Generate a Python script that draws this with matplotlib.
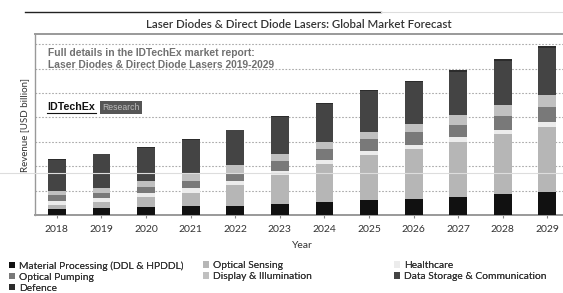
import matplotlib
matplotlib.use('Agg')
import matplotlib.pyplot as plt
from matplotlib.lines import Line2D
from matplotlib.patches import Patch
import numpy as np

plt.rcParams['font.family'] = ['Lato', 'DejaVu Sans']

years = ['2018', '2019', '2020', '2021', '2022', '2023',
         '2024', '2025', '2026', '2027', '2028', '2029']

# revenue per segment (one gridline = 1 unit)
material = [0.23, 0.27, 0.33, 0.36, 0.38, 0.44, 0.52, 0.60, 0.67, 0.75, 0.85, 0.96]
sensing = [0.20, 0.26, 0.41, 0.56, 0.87, 1.20, 1.56, 1.86, 2.02, 2.25, 2.46, 2.66]
healthcare = [0.15, 0.16, 0.15, 0.18, 0.14, 0.16, 0.18, 0.16, 0.18, 0.18, 0.18, 0.20]
pumping = [0.22, 0.23, 0.25, 0.31, 0.31, 0.41, 0.44, 0.48, 0.53, 0.49, 0.56, 0.60]
display = [0.18, 0.20, 0.26, 0.26, 0.34, 0.31, 0.31, 0.31, 0.34, 0.41, 0.45, 0.50]
datacom = [1.29, 1.38, 1.36, 1.42, 1.43, 1.50, 1.55, 1.66, 1.72, 1.77, 1.82, 1.92]
defence = [0.02, 0.02, 0.02, 0.03, 0.03, 0.03, 0.04, 0.04, 0.05, 0.08, 0.08, 0.08]

segments = [
    ('Material Processing (DDL & HPDDL)', material, '#111111'),
    ('Optical Sensing', sensing, '#b6b6b6'),
    ('Healthcare', healthcare, '#ececec'),
    ('Optical Pumping', pumping, '#797979'),
    ('Display & Illumination', display, '#c0c0c0'),
    ('Data Storage & Communication', datacom, '#444444'),
    ('Defence', defence, '#2c2c2c'),
]

fig = plt.figure(figsize=(5.63, 2.93), dpi=100)
ax = fig.add_axes([35 / 563, 78 / 293, 1 - 35 / 563, 181 / 293])

x = np.arange(len(years))
bottom = np.zeros(len(years))
for name, vals, col in segments:
    ax.bar(x, vals, 0.40, bottom=bottom, color=col, label=name, zorder=3)
    bottom = bottom + np.array(vals)

ax.set_xlim(-0.49, 11.35)
ax.set_ylim(0, 7.42)
ax.set_yticks(np.arange(1, 8))
ax.yaxis.grid(True, linestyle=(0, (1.5, 1.5)), color='#aaaaaa', linewidth=0.8, zorder=0)
ax.tick_params(axis='y', left=False, labelleft=False)
ax.set_xticks(x)
ax.set_xticklabels(years, fontsize=7.5, color='#333333')
ax.tick_params(axis='x', length=2, color='#888888', pad=5)

for side in ['left', 'bottom', 'top']:
    ax.spines[side].set_color('#999999')
ax.spines['bottom'].set_linewidth(1.4)
ax.spines['top'].set_linewidth(1.4)
ax.spines['left'].set_linewidth(1.0)
ax.spines['right'].set_visible(False)

ax.set_ylabel('Revenue [USD billion]', fontsize=7, color='#333333', labelpad=4)
fig.text(302 / 563, 1 - 245 / 293, 'Year', fontsize=7.5, color='#333333',
         ha='center', va='center')

fig.text(299 / 563, 1 - 24 / 293,
         'Laser Diodes & Direct Diode Lasers: Global Market Forecast',
         fontsize=8.3, color='#333333', ha='center', va='center', fontweight='semibold')

# rules at the very top
fig.add_artist(Line2D([25 / 563, 381 / 563], [1 - 11.5 / 293] * 2, color='#222222', lw=1.0))
fig.add_artist(Line2D([381 / 563, 1.0], [1 - 11.5 / 293] * 2, color='#dddddd', lw=0.8))
# faint scan line across the picture
fig.add_artist(Line2D([0, 1], [1 - 173 / 293] * 2, color='#dddddd', lw=0.8, zorder=10))

# report note inside the plot
fig.text(48 / 563, 1 - 53 / 293, 'Full details in the IDTechEx market report:',
         fontsize=7.4, color='#707070', fontweight='bold', family='Liberation Sans',
         va='center')
fig.text(48 / 563, 1 - 65 / 293, 'Laser Diodes & Direct Diode Lasers 2019-2029',
         fontsize=7.4, color='#707070', fontweight='bold', family='Liberation Sans',
         va='center')
fig.text(47 / 563, 1 - 107 / 293, 'IDTechEx', fontsize=7.7, color='#111111',
         fontweight='bold', family='Liberation Sans', va='center')
fig.add_artist(Line2D([47 / 563, 96 / 563], [1 - 112.5 / 293] * 2, color='#111111', lw=0.8))
fig.text(121 / 563, 1 - 107.5 / 293, 'Research', fontsize=6.2, color='#bbbbbb',
         family='Liberation Sans', ha='center', va='center',
         bbox=dict(boxstyle='square,pad=0.25', facecolor='#555555', edgecolor='none'))

# legend in three columns, placed like the original
handles = {name: Patch(facecolor=col, edgecolor='none') for name, vals, col in segments}
columns = [
    (9, ['Material Processing (DDL & HPDDL)', 'Optical Pumping', 'Defence']),
    (203, ['Optical Sensing', 'Display & Illumination']),
    (394, ['Healthcare', 'Data Storage & Communication']),
]
for xpos, names in columns:
    leg = fig.legend([handles[n] for n in names], names, loc='upper left',
                     bbox_to_anchor=(xpos / 563, 1 - 261 / 293), frameon=False,
                     fontsize=7.4, handlelength=0.6, handleheight=0.6,
                     handletextpad=0.4, labelspacing=0.2, borderpad=0,
                     borderaxespad=0, labelcolor='#333333')
    fig.add_artist(leg)

fig.savefig('out.png', dpi=100)
